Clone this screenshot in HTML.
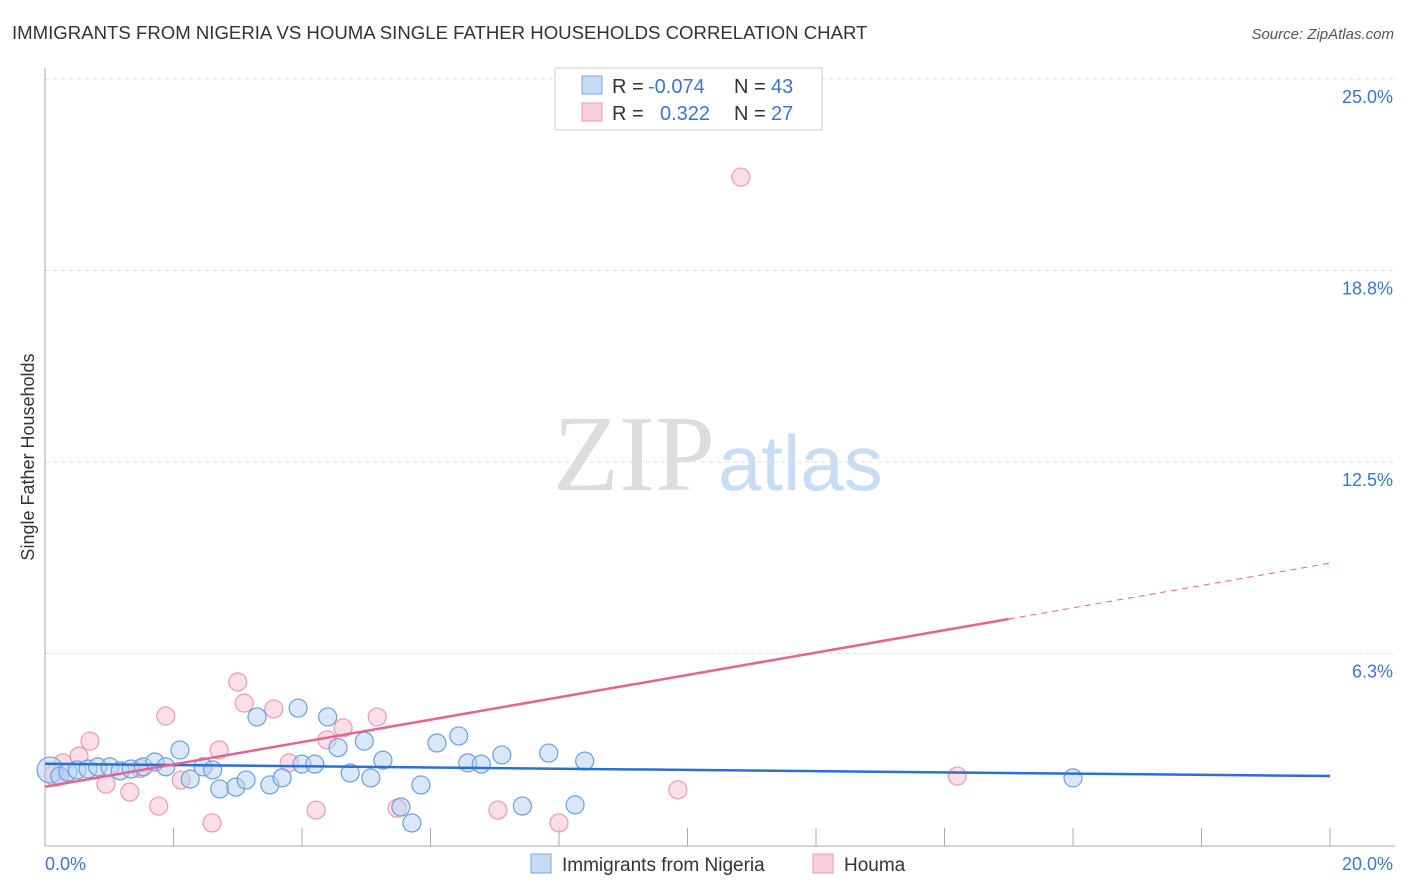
<!DOCTYPE html>
<html><head><meta charset="utf-8"><style>
body{margin:0;background:#fff;font-family:"Liberation Sans",sans-serif;}
#wrap{position:relative;width:1406px;height:892px;overflow:hidden}
</style></head><body><div id="wrap">
<svg id="svg" width="1406" height="892" xmlns="http://www.w3.org/2000/svg">
<text x="12" y="39" font-size="18.6" fill="#333">IMMIGRANTS FROM NIGERIA VS HOUMA SINGLE FATHER HOUSEHOLDS CORRELATION CHART</text>
<text x="1394" y="39" font-size="15" fill="#555" font-style="italic" text-anchor="end">Source: ZipAtlas.com</text>
<text x="34" y="457" font-size="18" fill="#333" text-anchor="middle" transform="rotate(-90 34 457)">Single Father Households</text>
<text x="553" y="490" font-size="108" fill="#ddd" font-family="Liberation Serif">ZIP</text>
<text x="718" y="490" font-size="78" fill="#c8dcf3">atlas</text>
<g id="grid"></g><g id="pts"></g><g id="lines"></g>
<g>
<rect x="555" y="68" width="267" height="62" fill="#fff" stroke="#ccc"/>
<rect x="582" y="76" width="20" height="18" fill="#c5daf5" stroke="#7aa7e0"/>
<text x="612" y="93" font-size="20" fill="#333">R = </text><text x="648" y="93" font-size="20" fill="#3a75d4">-0.074</text>
<text x="734" y="93" font-size="20" fill="#333">N = </text><text x="771" y="93" font-size="20" fill="#3a75d4">43</text>
<rect x="582" y="103" width="20" height="18" fill="#f9cfdc" stroke="#ec9ab3"/>
<text x="612" y="120" font-size="20" fill="#333">R = </text><text x="660" y="120" font-size="20" fill="#3a75d4">0.322</text>
<text x="734" y="120" font-size="20" fill="#333">N = </text><text x="771" y="120" font-size="20" fill="#3a75d4">27</text>
</g>
<g>
<rect x="531" y="854" width="20" height="19" fill="#c5daf5" stroke="#7aa7e0"/>
<text x="562" y="871" font-size="19" fill="#333">Immigrants from Nigeria</text>
<rect x="813" y="854" width="20" height="19" fill="#f9cfdc" stroke="#ec9ab3"/>
<text x="844" y="871" font-size="19" fill="#333">Houma</text>
</g>
</svg></div>
<script>
const yTicks=[6.25,12.5,18.75,25];
const yTickLabels=["6.3%","12.5%","18.8%","25.0%"];
const xTicks=[0,2,4,6,8,10,12,14,16,18,20];
const blueX=[0.08,0.23,0.36,0.5,0.67,0.82,1.01,1.17,1.34,1.53,1.71,1.88,2.1,2.26,2.46,2.61,2.72,2.97,3.13,3.3,3.5,3.69,3.94,4.0,4.2,4.4,4.56,4.75,4.97,5.07,5.26,5.54,5.71,5.85,6.1,6.44,6.58,6.79,7.11,7.43,7.84,8.25,8.4,16.0];
const blueY=[2.45,2.25,2.38,2.45,2.48,2.55,2.55,2.42,2.48,2.55,2.71,2.55,3.1,2.15,2.55,2.45,1.83,1.89,2.12,4.18,1.96,2.19,4.47,2.64,2.64,4.18,3.18,2.35,3.39,2.19,2.77,1.24,0.72,1.96,3.33,3.56,2.68,2.64,2.94,1.27,3.0,1.31,2.74,2.19];
const pinkX=[0.16,0.28,0.53,0.7,0.95,1.32,1.77,1.88,2.12,2.6,2.71,3.0,3.1,3.56,3.8,4.22,4.39,4.64,5.17,5.48,7.05,8.0,9.85,10.83,14.2,1.48];
const pinkY=[2.28,2.68,2.9,3.39,1.99,1.73,1.27,4.21,2.12,0.72,3.1,5.32,4.63,4.44,2.68,1.14,3.43,3.82,4.18,1.2,1.14,0.72,1.8,21.8,2.25,2.5];
const blueFit=[2.65,2.25], pinkFit=[1.9,9.2];
const NS="http://www.w3.org/2000/svg";
const X=v=>45+v*64.25, Y=v=>845-v*30.64;
function mk(t,a,p){const e=document.createElementNS(NS,t);for(const k in a)e.setAttribute(k,a[k]);p.appendChild(e);return e;}
const g=document.getElementById('grid');
yTicks.forEach((t,i)=>{
 const l=mk('line',{x1:45,x2:1395,y1:Y(t),y2:Y(t),stroke:'#ddd','stroke-dasharray':'4,4'},g);
 
 
 const tx=mk('text',{x:1393,y:Y(t)+24,'font-size':18,fill:'#3a75d4','text-anchor':'end'},g);tx.textContent=yTickLabels[i];
 
 
});
const ax=mk('line',{x1:45,x2:45,y1:68,y2:846,stroke:'#aaa'},g);


const bx=mk('line',{x1:45,x2:1395,y1:846,y2:846,stroke:'#aaa'},g);


xTicks.slice(1).forEach(t=>{const l=mk('line',{x1:X(t),x2:X(t),y1:828,y2:846,stroke:'#aaa'},g);
 
 });
[["0.0%",45,'start'],["20.0%",1393,'end']].forEach(a=>{const t=mk('text',{x:a[1],y:870,'font-size':18,fill:'#3a75d4','text-anchor':a[2]},g);t.textContent=a[0];
 
 });
const p=document.getElementById('pts');
pinkX.forEach((x,i)=>{const c=mk('circle',{cx:X(x),cy:Y(pinkY[i]),r:i==0?11:9,fill:'rgba(247,190,208,0.5)',stroke:'#ec9ab3','stroke-width':1.2},p);
 
 });
blueX.forEach((x,i)=>{const c=mk('circle',{cx:X(x),cy:Y(blueY[i]),r:i==0?13:9,fill:'rgba(180,208,243,0.5)',stroke:'#6b9fe0','stroke-width':1.2},p);
 
 });
const L=document.getElementById('lines');
const bl=mk('line',{x1:X(0),y1:Y(blueFit[0]),x2:X(20),y2:Y(blueFit[1]),stroke:'#2a6fd6','stroke-width':2.5},L);


const pf=v=>pinkFit[0]+(pinkFit[1]-pinkFit[0])*v/20;
const pl=mk('line',{x1:X(0),y1:Y(pf(0)),x2:X(15),y2:Y(pf(15)),stroke:'#e8638c','stroke-width':2.5},L);


const pd=mk('line',{x1:X(15),y1:Y(pf(15)),x2:X(20),y2:Y(pf(20)),stroke:'#e8638c','stroke-width':1,'stroke-dasharray':'6,5'},L);


</script></body></html>
